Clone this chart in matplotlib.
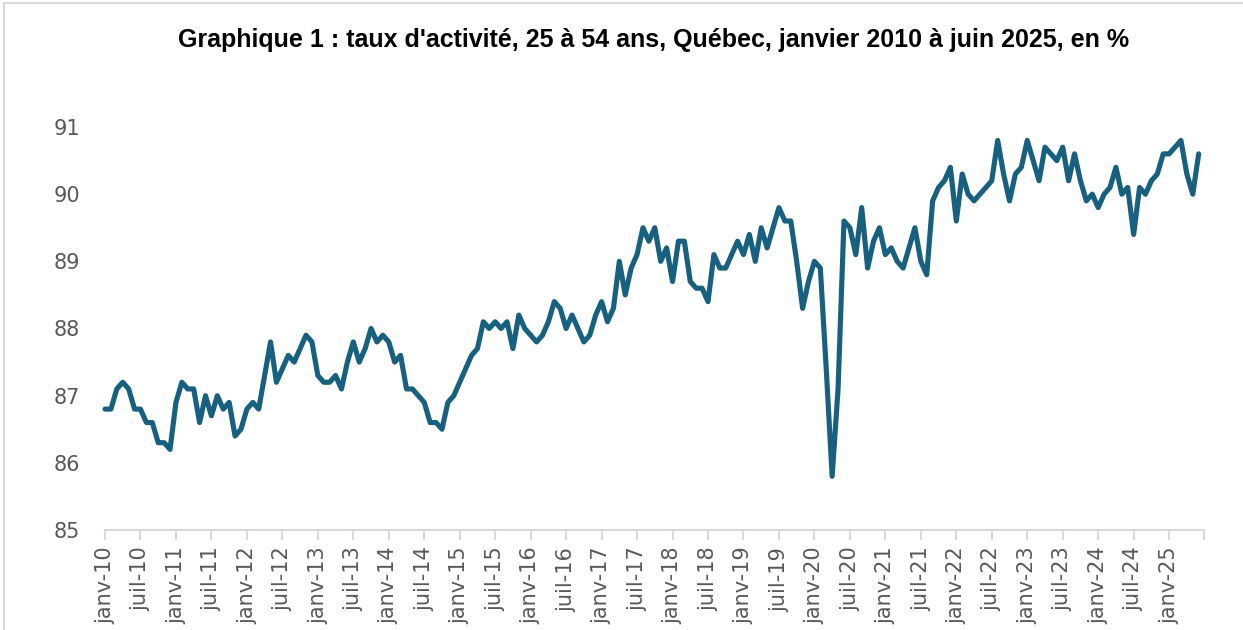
import numpy as np
import pandas as pd
import matplotlib
matplotlib.use('Agg')
import matplotlib.pyplot as plt
from matplotlib.patches import Rectangle

# taux d'activite 25-54 ans, Quebec, mensuel (janv 2010 -> juin 2025)
taux = [
    86.8, 86.8, 87.1, 87.2, 87.1, 86.8, 86.8, 86.6, 86.6, 86.3, 86.3, 86.2,  # 2010
    86.9, 87.2, 87.1, 87.1, 86.6, 87.0, 86.7, 87.0, 86.8, 86.9, 86.4, 86.5,  # 2011
    86.8, 86.9, 86.8, 87.3, 87.8, 87.2, 87.4, 87.6, 87.5, 87.7, 87.9, 87.8,  # 2012
    87.3, 87.2, 87.2, 87.3, 87.1, 87.5, 87.8, 87.5, 87.7, 88.0, 87.8, 87.9,  # 2013
    87.8, 87.5, 87.6, 87.1, 87.1, 87.0, 86.9, 86.6, 86.6, 86.5, 86.9, 87.0,  # 2014
    87.2, 87.4, 87.6, 87.7, 88.1, 88.0, 88.1, 88.0, 88.1, 87.7, 88.2, 88.0,  # 2015
    87.9, 87.8, 87.9, 88.1, 88.4, 88.3, 88.0, 88.2, 88.0, 87.8, 87.9, 88.2,  # 2016
    88.4, 88.1, 88.3, 89.0, 88.5, 88.9, 89.1, 89.5, 89.3, 89.5, 89.0, 89.2,  # 2017
    88.7, 89.3, 89.3, 88.7, 88.6, 88.6, 88.4, 89.1, 88.9, 88.9, 89.1, 89.3,  # 2018
    89.1, 89.4, 89.0, 89.5, 89.2, 89.5, 89.8, 89.6, 89.6, 89.0, 88.3, 88.7,  # 2019
    89.0, 88.9, 87.4, 85.8, 87.1, 89.6, 89.5, 89.1, 89.8, 88.9, 89.3, 89.5,  # 2020
    89.1, 89.2, 89.0, 88.9, 89.2, 89.5, 89.0, 88.8, 89.9, 90.1, 90.2, 90.4,  # 2021
    89.6, 90.3, 90.0, 89.9, 90.0, 90.1, 90.2, 90.8, 90.3, 89.9, 90.3, 90.4,  # 2022
    90.8, 90.5, 90.2, 90.7, 90.6, 90.5, 90.7, 90.2, 90.6, 90.2, 89.9, 90.0,  # 2023
    89.8, 90.0, 90.1, 90.4, 90.0, 90.1, 89.4, 90.1, 90.0, 90.2, 90.3, 90.6,  # 2024
    90.6, 90.7, 90.8, 90.3, 90.0, 90.6,                                      # 2025
]
mois = pd.date_range('2010-01-01', periods=len(taux), freq='MS')
noms_mois = {1: 'janv', 7: 'juil'}
y_ticks = [85, 86, 87, 88, 89, 90, 91]
titre = "Graphique 1 : taux d'activité, 25 à 54 ans, Québec, janvier 2010 à juin 2025, en %"

W, H = 1243, 630
fig = plt.figure(figsize=(W / 100, H / 100), dpi=100)
ax = fig.add_axes([105 / W, 1 - 530 / H, (1204 - 105) / W, (530 - 127) / H])

x = np.arange(len(taux))
ax.plot(x, taux, color='#17607f', lw=3.7, solid_joinstyle='round',
        solid_capstyle='round', clip_on=False)

# axe x : une etiquette tous les 6 mois
pos = [i for i, d in enumerate(mois) if d.month in noms_mois]
labels = [f"{noms_mois[mois[i].month]}-{mois[i].year % 100:02d}" for i in pos]
ax.set_xticks(pos + [185.9])
ax.set_xticklabels(labels + [''], rotation=90, fontsize=15, color='#595959')
ax.set_xlim(0, 185.9)

ax.set_ylim(85, 91)
ax.set_yticks(y_ticks)
ax.set_yticklabels([str(v) for v in y_ticks], fontsize=15, color='#595959')

for s in ['top', 'right', 'left']:
    ax.spines[s].set_visible(False)
ax.spines['bottom'].set_color('#d9d9d9')
ax.spines['bottom'].set_linewidth(1.5)
ax.tick_params(axis='x', direction='out', length=7, width=1.5, color='#d9d9d9', pad=5)
ax.tick_params(axis='y', length=0, pad=18)

fig.text(654 / W, 1 - 40 / H, titre, ha='center', va='center',
         fontsize=18, fontweight='bold', family='Liberation Sans', color='black')

# cadre du graphique
fig.patches.append(Rectangle((4 / W, -0.05), 1.1, 1.05 - 3 / H, transform=fig.transFigure,
                             fill=False, edgecolor='#d9d9d9', lw=1.5))

fig.savefig('out.png', dpi=100)
